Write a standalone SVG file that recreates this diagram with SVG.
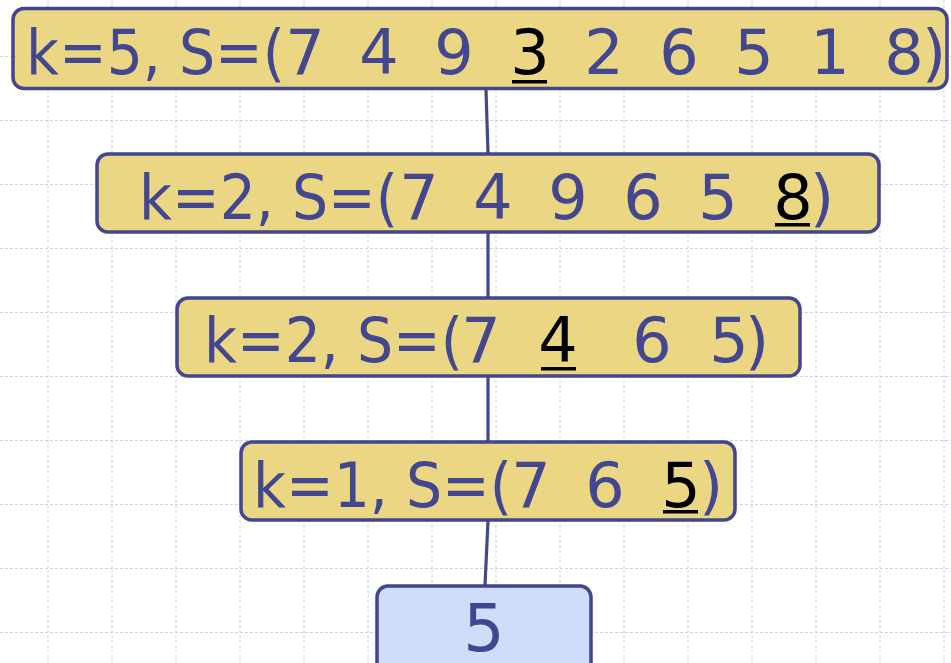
<svg xmlns="http://www.w3.org/2000/svg" width="951" height="663" viewBox="0 0 951 663">
<style>
.grid line{stroke:#c6d2f2;stroke-width:1;stroke-dasharray:3 2}
.conn line{stroke:#42468c;stroke-width:3.2;stroke-linecap:butt}
.box{fill:#ead683;stroke:#42468c;stroke-width:3.5}
.leaf{fill:#d0ddfa;stroke:#42468c;stroke-width:3.5}
text{font-family:"DejaVu Sans","Verdana",sans-serif;font-size:62px;fill:#42478f}
.d{text-anchor:middle}
.k{fill:#000}
.u{fill:#000}
</style>
<rect width="951" height="663" fill="#ffffff"/>
<g class="grid">
<line x1="48" y1="0" x2="48" y2="663"/><line x1="112" y1="0" x2="112" y2="663"/><line x1="176" y1="0" x2="176" y2="663"/><line x1="240" y1="0" x2="240" y2="663"/><line x1="304" y1="0" x2="304" y2="663"/><line x1="368" y1="0" x2="368" y2="663"/><line x1="432" y1="0" x2="432" y2="663"/><line x1="496" y1="0" x2="496" y2="663"/><line x1="560" y1="0" x2="560" y2="663"/><line x1="624" y1="0" x2="624" y2="663"/><line x1="688" y1="0" x2="688" y2="663"/><line x1="752" y1="0" x2="752" y2="663"/><line x1="816" y1="0" x2="816" y2="663"/><line x1="880" y1="0" x2="880" y2="663"/><line x1="944" y1="0" x2="944" y2="663"/>
<line x1="0" y1="56.5" x2="951" y2="56.5"/><line x1="0" y1="120.5" x2="951" y2="120.5"/><line x1="0" y1="184.5" x2="951" y2="184.5"/><line x1="0" y1="248.5" x2="951" y2="248.5"/><line x1="0" y1="312.5" x2="951" y2="312.5"/><line x1="0" y1="376.5" x2="951" y2="376.5"/><line x1="0" y1="440.5" x2="951" y2="440.5"/><line x1="0" y1="504.5" x2="951" y2="504.5"/><line x1="0" y1="568.5" x2="951" y2="568.5"/><line x1="0" y1="632.5" x2="951" y2="632.5"/>
</g>
<g id="connectors" class="conn">
<line x1="486" y1="90" x2="488" y2="153"/>
<line x1="488" y1="233" x2="488" y2="297"/>
<line x1="488" y1="377" x2="488" y2="441"/>
<line x1="488" y1="521" x2="485" y2="585"/>
</g>
<g id="n1">
<rect class="box" x="13" y="8.5" width="934" height="80" rx="11"/>
<text x="26" y="74" textLength="259" lengthAdjust="spacingAndGlyphs">k=5, S=(</text>
<text class="d" x="305" y="74">7</text><text class="d" x="379" y="74">4</text><text class="d" x="454" y="74">9</text><text class="d k" x="530" y="74">3</text><rect class="u" x="512" y="80" width="35" height="3.5"/><text class="d" x="604" y="74">2</text><text class="d" x="679" y="74">6</text><text class="d" x="754" y="74">5</text><text class="d" x="830" y="74">1</text><text class="d" x="904" y="74">8</text><text class="d" x="934" y="74">)</text>
</g>
<g id="n2">
<rect class="box" x="97" y="154" width="782" height="78" rx="11"/>
<text x="139" y="219" textLength="259" lengthAdjust="spacingAndGlyphs">k=2, S=(</text>
<text class="d" x="419" y="219">7</text><text class="d" x="493" y="219">4</text><text class="d" x="568" y="219">9</text><text class="d" x="643" y="219">6</text><text class="d" x="718" y="219">5</text><text class="d k" x="793" y="219">8</text><rect class="u" x="775" y="223" width="35" height="3.5"/><text class="d" x="822" y="219">)</text>
</g>
<g id="n3">
<rect class="box" x="177" y="298" width="623" height="78" rx="11"/>
<text x="204" y="362" textLength="259" lengthAdjust="spacingAndGlyphs">k=2, S=(</text>
<text class="d" x="481" y="362">7</text><text class="d k" x="558" y="362">4</text><rect class="u" x="541" y="367" width="35" height="3.5"/><text class="d" x="652" y="362">6</text><text class="d" x="729" y="362">5</text><text class="d" x="757" y="362">)</text>
</g>
<g id="n4">
<rect class="box" x="241" y="442" width="494" height="78" rx="11"/>
<text x="253" y="507" textLength="259" lengthAdjust="spacingAndGlyphs">k=1, S=(</text>
<text class="d" x="531" y="507">7</text><text class="d" x="605" y="507">6</text><text class="d k" x="681" y="507">5</text><rect class="u" x="663" y="510" width="35" height="3.5"/><text class="d" x="711" y="507">)</text>
</g>
<g id="n5">
<rect class="leaf" x="377" y="586" width="214" height="90" rx="11"/>
<text class="d" x="484" y="651" style="font-size:65px">5</text>
</g>
</svg>
